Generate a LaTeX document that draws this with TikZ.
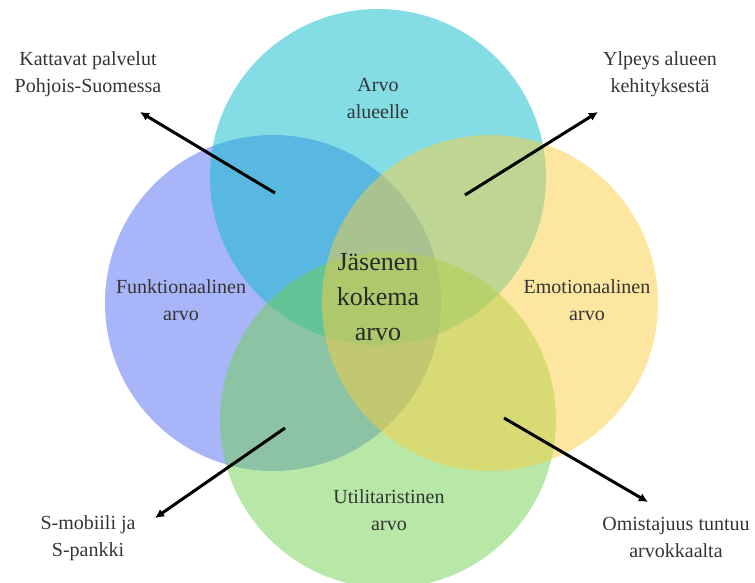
\documentclass[tikz,border=0pt]{standalone}
\usepackage{fontspec}
\setmainfont{Liberation Serif}
\usetikzlibrary{arrows.meta}
\definecolor{funcBlue}{RGB}{81,107,241}
\definecolor{areaCyan}{RGB}{10,188,204}
\definecolor{utilGreen}{RGB}{113,209,81}
\definecolor{emoYellow}{RGB}{249,205,65}
\definecolor{textGray}{RGB}{52,52,52}
\begin{document}
\begin{tikzpicture}[x=1pt, y=-1pt,
  vennarea/.style={fill opacity=0.5},
  venntext/.style={align=center, text=textGray, font=\fontsize{20}{27}\selectfont},
  centertext/.style={align=center, text=textGray!80!black, font=\fontsize{26}{35}\selectfont},
  pointer/.style={line width=3pt, -{Latex[length=9pt, width=9pt]}}]

  \useasboundingbox (0,0) rectangle (755,582);

  \fill[vennarea, fill=funcBlue] (273,303) circle[radius=168pt];
  \fill[vennarea, fill=areaCyan] (378,177) circle[radius=168pt];
  \fill[vennarea, fill=utilGreen] (388,420) circle[radius=168pt];
  \fill[vennarea, fill=emoYellow] (490,303) circle[radius=168pt];

  \node[venntext] (alue) at (378,98) {Arvo\\alueelle};
  \node[venntext] (funktio) at (181,300) {Funktionaalinen\\arvo};
  \node[venntext] (emotio) at (587,300) {Emotionaalinen\\arvo};
  \node[venntext] (utili) at (389,510) {Utilitaristinen\\arvo};
  \node[centertext] (jasen) at (378,297) {Jäsenen\\kokema\\arvo};

  \node[venntext] (palvelut) at (88,74) {Kattavat palvelut\\Pohjois-Suomessa};
  \node[venntext] (ylpeys) at (660,74) {Ylpeys alueen\\kehityksestä};
  \node[venntext] (smobiili) at (88,538) {S-mobiili ja\\S-pankki};
  \node[venntext] (omistaja) at (676,537) {Omistajuus tuntuu\\arvokkaalta};

  \coordinate (palvelutFrom) at (275,193);
  \coordinate (palvelutTip) at (140,112);
  \coordinate (ylpeysFrom) at (465,195);
  \coordinate (ylpeysTip) at (598,112);
  \coordinate (smobiiliFrom) at (285,428);
  \coordinate (smobiiliTip) at (155,518);
  \coordinate (omistajaFrom) at (504,418);
  \coordinate (omistajaTip) at (648,502);

  \draw[pointer] (palvelutFrom) -- (palvelutTip);
  \draw[pointer] (ylpeysFrom) -- (ylpeysTip);
  \draw[pointer] (smobiiliFrom) -- (smobiiliTip);
  \draw[pointer] (omistajaFrom) -- (omistajaTip);
\end{tikzpicture}
\end{document}
